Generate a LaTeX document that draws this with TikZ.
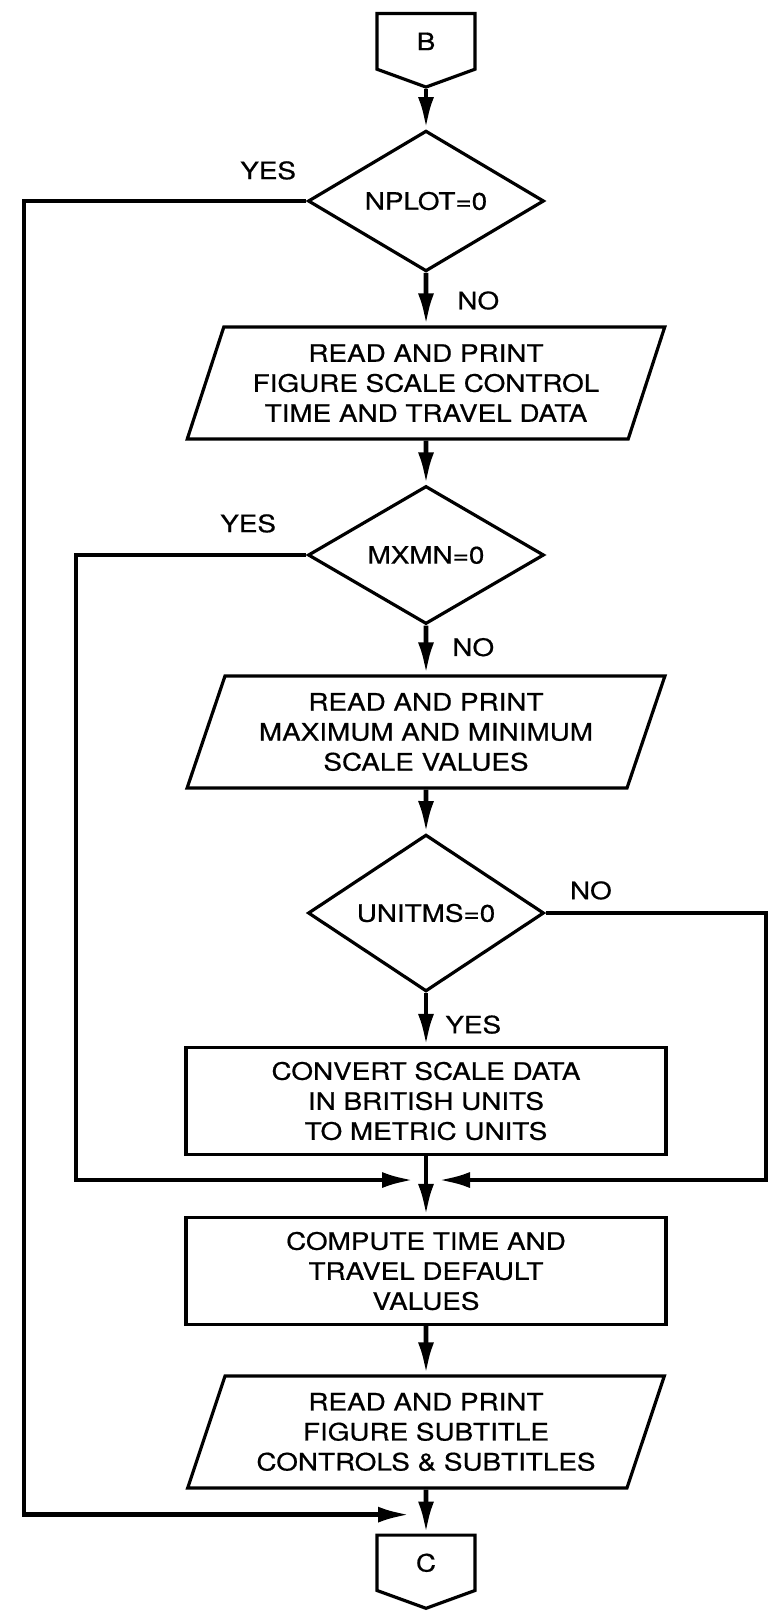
\documentclass[tikz,border=0pt]{standalone}
\usepackage{fontspec}
\setmainfont{TeX Gyre Heros}[FakeStretch=1.16, FakeBold=0.6]
\usetikzlibrary{shapes.geometric,shapes.symbols,arrows.meta,positioning,calc}

\begin{document}
\begin{tikzpicture}[x=0.5pt, y=-0.5pt, >={Latex[length=16pt,width=8pt]},
    font=\fontsize{12}{15}\selectfont]

% --- Styles ---
\tikzset{
    decision/.style={
        diamond,
        draw=black,
        line width=1.6pt,
        minimum width=118pt,
        minimum height=69pt,
        inner sep=0pt
    },
    io/.style={
        trapezium,
        trapezium left angle=68,
        trapezium right angle=112,
        trapezium stretches=true,
        draw=black,
        line width=1.6pt,
        minimum width=239pt,
        minimum height=56pt,
        align=center,
        inner sep=0pt
    },
    process/.style={
        rectangle,
        draw=black,
        line width=1.6pt,
        minimum width=240pt,
        minimum height=53.5pt,
        align=center,
        inner sep=0pt
    },
    offpage/.style={
        signal,
        signal to=south,
        signal pointer angle=140,
        draw=black,
        line width=1.6pt,
        minimum width=49pt,
        minimum height=29.5pt,
        inner sep=0pt
    },
    flow/.style={
        line width=2.4pt
    },
    answer/.style={
        inner sep=0pt
    }
}

\useasboundingbox (0,0) rectangle (770,1611);

% --- Ingang B ---
\node[offpage, anchor=north] (bconn) at (426,12) {B};

% --- Beslissingen en blokken ---
\node[decision] (d1) at (426,201) {NPLOT=0};

\node[io] (p1) at (426,383)
    {READ AND PRINT\\FIGURE SCALE CONTROL\\TIME AND TRAVEL DATA};

\node[decision] (d2) at (426,555) {MXMN=0};

\node[io] (p2) at (426,732)
    {READ AND PRINT\\MAXIMUM AND MINIMUM\\SCALE VALUES};

\node[decision] (d3) at (426,913) {UNITMS=0};

\node[process] (conv) at (426,1101)
    {CONVERT SCALE DATA\\IN BRITISH UNITS\\TO METRIC UNITS};

\node[process] (comp) at (426,1271)
    {COMPUTE TIME AND\\TRAVEL DEFAULT\\VALUES};

\node[io] (p3) at (426,1432)
    {READ AND PRINT\\FIGURE SUBTITLE\\CONTROLS \& SUBTITLES};

% --- Uitgang C ---
\node[offpage, anchor=south] (cconn) at (426,1610) {C};

% --- Antwoorden ---
\node[answer, above left=10.5pt and 5pt of d1.west] (yes1) {YES};
\node[answer, below right=9pt and 15.5pt of d1.south] (no1) {NO};
\node[answer, above left=11pt and 15pt of d2.west] (yes2) {YES};
\node[answer, below right=6pt and 13pt of d2.south] (no2) {NO};
\node[answer, above right=6.5pt and 12pt of d3.east] (no3) {NO};
\node[answer, below right=11pt and 9.5pt of d3.south] (yes3) {YES};

% --- Hoofdstroom ---
\draw[flow, ->] (bconn.south) -- (d1.north);
\draw[flow, ->] (d1.south) -- (p1.north);
\draw[flow, ->] (p1.south) -- (d2.north);
\draw[flow, ->] (d2.south) -- (p2.north);
\draw[flow, ->] (p2.south) -- (d3.north);
\draw[flow, ->] (d3.south) -- (conv.north);
\draw[flow, ->] (conv.south) -- (comp.north);
\draw[flow, ->] (comp.south) -- (p3.north);
\draw[flow, ->] (p3.south) -- (cconn.north);

% --- Zijtakken ---
\coordinate (outerleft) at (24,0);
\coordinate (innerleft) at (76,0);
\coordinate (rightedge) at (766,0);
\coordinate (join1) at ($(conv.south)!0.4!(comp.north)$);
\coordinate (join2) at ($(p3.south)!0.57!(cconn.north)$);

\draw[flow, ->] (d1.west) -| (outerleft |- join2) -- ([xshift=-8pt]join2);
\draw[flow, ->] (d2.west) -| (innerleft |- join1) -- ([xshift=-6pt]join1);
\draw[flow, ->] (d3.east) -| (rightedge |- join1) -- ([xshift=6pt]join1);

\end{tikzpicture}
\end{document}
